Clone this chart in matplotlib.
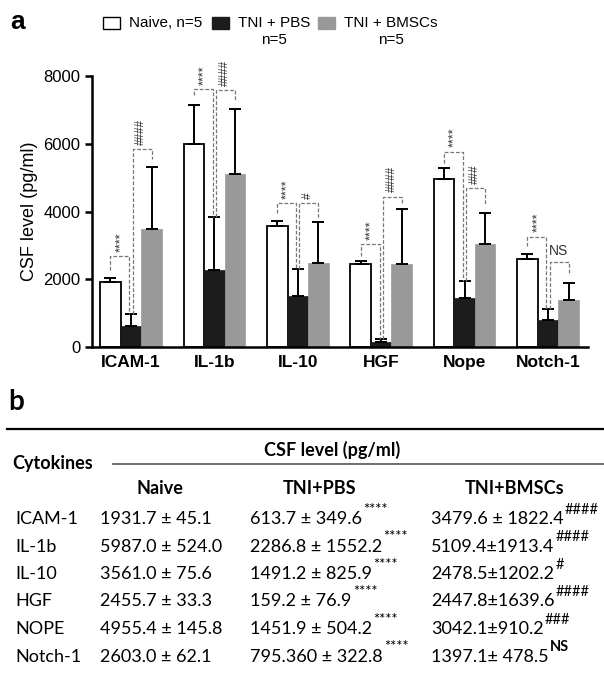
import matplotlib.pyplot as plt
import numpy as np
from matplotlib.patches import Rectangle

plt.rcParams['font.family'] = ['Liberation Sans', 'DejaVu Sans']

# bar chart data (panel a)
cytokines = ["ICAM-1", "IL-1b", "IL-10", "HGF", "Nope", "Notch-1"]
naive_mean = [1931.7, 5987.0, 3561.0, 2455.7, 4955.4, 2603.0]
pbs_mean = [613.7, 2286.8, 1491.2, 159.2, 1451.9, 795.36]
bmsc_mean = [3479.6, 5109.4, 2478.5, 2447.8, 3042.1, 1397.1]
naive_err = [100, 1170, 170, 75, 326, 139]
pbs_err = [349.6, 1552.2, 825.9, 76.9, 504.2, 322.8]
bmsc_err = [1822.4, 1913.4, 1202.2, 1639.6, 910.2, 478.5]

# significance brackets
b1_top = [2690, 7610, 4260, 3030, 5770, 3260]
b1_left_end = [2270, 7440, 3950, 2700, 5420, 2980]
b1_label = ["****"] * 6
b2_top = [5845, 7590, 4260, 4440, 4690, 2500]
b2_right_end = [5550, 7260, 3830, 4240, 4190, 2125]
b2_label = ["####", "####", "#", "####", "###", "NS"]

# table data (panel b)
tab_names = ["ICAM-1", "IL-1b", "IL-10", "HGF", "NOPE", "Notch-1"]
tab_naive = ["1931.7 ± 45.1", "5987.0 ± 524.0", "3561.0 ± 75.6",
             "2455.7 ± 33.3", "4955.4 ± 145.8", "2603.0 ± 62.1"]
tab_pbs = ["613.7 ± 349.6", "2286.8 ± 1552.2", "1491.2 ± 825.9",
           "159.2 ± 76.9", "1451.9 ± 504.2", "795.360 ± 322.8"]
tab_pbs_sig = ["****"] * 6
tab_bmsc = ["3479.6 ± 1822.4", "5109.4±1913.4", "2478.5±1202.2",
            "2447.8±1639.6", "3042.1±910.2", "1397.1± 478.5"]
tab_bmsc_sig = ["####", "####", "#", "####", "###", "NS"]

W, H = 604, 682
fig = plt.figure(figsize=(W / 100, H / 100), dpi=100)

# ---- panel a ----
ax = fig.add_axes([92 / W, 1 - 347 / H, (588 - 92) / W, (347 - 76) / H])
x = np.arange(len(cytokines))
bw = 0.247
ekw = dict(lw=1.4, capthick=1.4)
ax.bar(x - bw, naive_mean, bw, color="white", edgecolor="black", linewidth=1.3,
       yerr=[np.zeros(6), naive_err], capsize=4.5, error_kw=ekw, zorder=2)
ax.bar(x, pbs_mean, bw, color="#1c1c1c", edgecolor="#1c1c1c", linewidth=0.5,
       yerr=[np.zeros(6), pbs_err], capsize=4.5, error_kw=ekw, zorder=2)
ax.bar(x + bw, bmsc_mean, bw, color="#999999", edgecolor="#999999", linewidth=0.5,
       yerr=[np.zeros(6), bmsc_err], capsize=4.5, error_kw=ekw, zorder=2)

ax.set_xlim(-0.468, 5.48)
ax.set_ylim(0, 8000)
ax.set_yticks([0, 2000, 4000, 6000, 8000])
ax.tick_params(axis="y", labelsize=12, length=5, width=1.8)
ax.tick_params(axis="x", length=0, pad=6)
ax.set_xticks(x)
ax.set_xticklabels(cytokines, fontsize=12.5, fontweight="bold")
for s in ["top", "right"]:
    ax.spines[s].set_visible(False)
for s in ["left", "bottom"]:
    ax.spines[s].set_linewidth(1.8)
ax.set_ylabel("CSF level (pg/ml)", fontsize=13, labelpad=4)

dash = dict(color="#777777", lw=0.9, ls=(0, (3, 1.5)), clip_on=False, zorder=3)
off = 0.02
for i in range(6):
    xn, xp, xb = i - bw, i, i + bw
    pbs_top = pbs_mean[i] + pbs_err[i]
    ax.plot([xn, xn, xp - off, xp - off],
            [b1_left_end[i], b1_top[i], b1_top[i], pbs_top], **dash)
    ax.plot([xp + off, xp + off, xb, xb],
            [pbs_top, b2_top[i], b2_top[i], b2_right_end[i]], **dash)
    ax.annotate(b1_label[i], xy=((xn + xp) / 2, b1_top[i]), xytext=(0, 3),
                textcoords="offset points", rotation=90, ha="center", va="bottom",
                fontsize=9, color="#333333", annotation_clip=False)
    if b2_label[i] == "NS":
        ax.annotate(b2_label[i], xy=((xp + xb) / 2, b2_top[i]), xytext=(0, 3),
                    textcoords="offset points", ha="center", va="bottom",
                    fontsize=10, color="#333333", annotation_clip=False)
    else:
        ax.annotate(b2_label[i], xy=((xp + xb) / 2, b2_top[i]), xytext=(0, 3),
                    textcoords="offset points", rotation=90, ha="center", va="bottom",
                    fontsize=8.5, color="#333333", annotation_clip=False)

fig.text(10 / W, 1 - 22 / H, "a", fontsize=19, fontweight="bold", va="center")

# legend drawn by hand
leg = [("Naive, n=5", "white", 103), ("TNI + PBS\nn=5", "#1c1c1c", 212),
       ("TNI + BMSCs\nn=5", "#999999", 318)]
for lab, col, lx in leg:
    fig.add_artist(Rectangle((lx / W, 1 - 29 / H), 17 / W, 12 / H, transform=fig.transFigure,
                             facecolor=col, edgecolor="black" if col == "white" else col, lw=1))
    fig.text((lx + 26) / W, 1 - 16 / H, lab, fontsize=11, va="top", ha="left",
             multialignment="center", linespacing=1.3)

# ---- panel b ----
tax = fig.add_axes([0, 0, 1, 1])
tax.set_xlim(0, W)
tax.set_ylim(H, 0)
tax.axis("off")
tf = ["Lato", "DejaVu Sans"]

tax.text(8, 402, "b", fontsize=20, fontweight="bold", va="center", family=tf)
tax.plot([7, W], [429, 429], color="black", lw=1.6)
tax.plot([113, W], [464, 464], color="#555555", lw=1.2)
tax.text(332, 450, "CSF level (pg/ml)", fontsize=13, fontweight="bold", ha="center",
         va="center", family=tf)
tax.text(12, 463, "Cytokines", fontsize=13, fontweight="bold", va="center", family=tf)
for hx, ht in [(160, "Naive"), (320, "TNI+PBS"), (515, "TNI+BMSCs")]:
    tax.text(hx, 489, ht, fontsize=13, fontweight="bold", ha="center", va="center", family=tf)

row_y = 519 + 27.5 * np.arange(len(tab_names))
for r in range(len(tab_names)):
    y = row_y[r]
    tax.text(15, y, tab_names[r], fontsize=13, va="center", family=tf)
    tax.text(100, y, tab_naive[r], fontsize=13, va="center", family=tf)
    tp = tax.text(250, y, tab_pbs[r], fontsize=13, va="center", family=tf)
    tb = tax.text(431, y, tab_bmsc[r], fontsize=13, va="center", family=tf)
    fw = "bold" if tab_bmsc_sig[r] == "NS" else "normal"
    tax.annotate(tab_pbs_sig[r], xy=(1, 1), xycoords=tp, xytext=(1, 1),
                 textcoords="offset points", ha="left", va="center", fontsize=10.5, family=tf)
    tax.annotate(tab_bmsc_sig[r], xy=(1, 1), xycoords=tb, xytext=(1, 1),
                 textcoords="offset points", ha="left", va="center", fontsize=10.5,
                 fontweight=fw, family=tf)

fig.savefig("out.png", dpi=100)
